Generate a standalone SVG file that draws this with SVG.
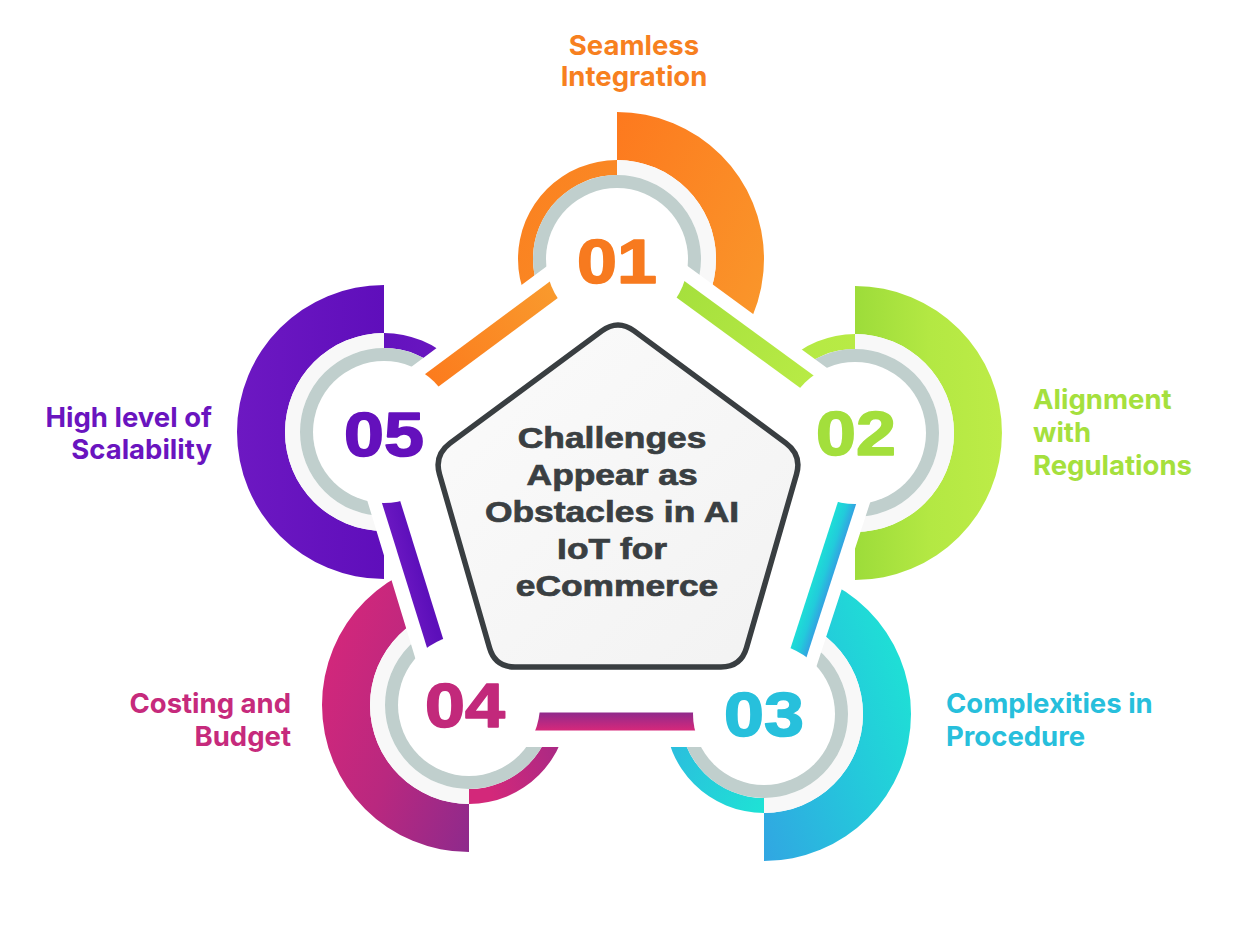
<svg xmlns="http://www.w3.org/2000/svg" width="1241" height="949" viewBox="0 0 1241 949">
<defs>
<linearGradient id="g1big" x1="0" y1="0" x2="1" y2="1"><stop offset="0" stop-color="#fd791e"/><stop offset="1" stop-color="#f99c2d"/></linearGradient>
<linearGradient id="g1thin" x1="0" y1="0" x2="1" y2="1"><stop offset="0" stop-color="#fb801f"/><stop offset="1" stop-color="#f98f29"/></linearGradient>
<linearGradient id="g2big" x1="0" y1="0" x2="1" y2="0"><stop offset="0" stop-color="#9ddc3a"/><stop offset="0.5" stop-color="#b3e843"/><stop offset="1" stop-color="#bdec47"/></linearGradient>
<linearGradient id="g2thin" x1="0" y1="0" x2="1" y2="0"><stop offset="0" stop-color="#b2e843"/><stop offset="1" stop-color="#b8eb45"/></linearGradient>
<linearGradient id="g3big" x1="0" y1="1" x2="1" y2="0.3"><stop offset="0" stop-color="#31a6e2"/><stop offset="0.5" stop-color="#25c5dc"/><stop offset="1" stop-color="#1ee2d5"/></linearGradient>
<linearGradient id="g3thin" x1="0" y1="0" x2="1" y2="1"><stop offset="0" stop-color="#32a9e2"/><stop offset="1" stop-color="#1ee3d5"/></linearGradient>
<linearGradient id="g4big" x1="0" y1="0.3" x2="1" y2="1"><stop offset="0" stop-color="#d4277b"/><stop offset="0.5" stop-color="#b9287f"/><stop offset="1" stop-color="#8e2a8c"/></linearGradient>
<linearGradient id="g4thin" x1="0" y1="0.5" x2="1" y2="0"><stop offset="0" stop-color="#d3287a"/><stop offset="1" stop-color="#922a8a"/></linearGradient>
<linearGradient id="g5big" x1="0" y1="0" x2="1" y2="0"><stop offset="0" stop-color="#6d18c2"/><stop offset="1" stop-color="#5f0ebb"/></linearGradient>
<linearGradient id="g5thin" x1="0" y1="0" x2="1" y2="0"><stop offset="0" stop-color="#6412be"/><stop offset="1" stop-color="#6c18c2"/></linearGradient>
<linearGradient id="bOrange" gradientUnits="userSpaceOnUse" x1="430" y1="383" x2="557" y2="290"><stop offset="0" stop-color="#fc7b1d"/><stop offset="1" stop-color="#f99a2d"/></linearGradient>
<linearGradient id="bGreen" gradientUnits="userSpaceOnUse" x1="680" y1="290" x2="810" y2="385"><stop offset="0" stop-color="#a6e03d"/><stop offset="1" stop-color="#b8eb45"/></linearGradient>
<linearGradient id="bCyan" gradientUnits="userSpaceOnUse" x1="813.4" y1="575.2" x2="830.6" y2="580.8"><stop offset="0" stop-color="#1ddfd6"/><stop offset="0.55" stop-color="#22cbdb"/><stop offset="1" stop-color="#32a5e1"/></linearGradient>
<linearGradient id="bPink" gradientUnits="userSpaceOnUse" x1="0" y1="712" x2="0" y2="731"><stop offset="0" stop-color="#8e2a8c"/><stop offset="1" stop-color="#d8287a"/></linearGradient>
<linearGradient id="bPurple" gradientUnits="userSpaceOnUse" x1="400" y1="570" x2="420" y2="565"><stop offset="0" stop-color="#6a17c1"/><stop offset="1" stop-color="#5c0fba"/></linearGradient>
<linearGradient id="core" x1="0" y1="0" x2="1" y2="1"><stop offset="0" stop-color="#fbfbfb"/><stop offset="1" stop-color="#f2f2f2"/></linearGradient>
<style>
.light{fill:#f8f8f8}
.gray{fill:none;stroke:#c0cfcd;stroke-width:14}
.hole{fill:#ffffff}
.bar{fill:none;stroke-width:18;stroke-linecap:butt}
.num{font-family:"Liberation Sans",Arial,sans-serif;font-weight:700;font-size:63px;text-anchor:middle;stroke-width:1.6;stroke-linejoin:round}
.lbl{font-family:Inter,"Liberation Sans",Arial,sans-serif;font-weight:700;font-size:27.5px}
.core{fill:url(#core);stroke:#393e41;stroke-width:5.5;stroke-linejoin:round}
.coretxt{font-family:"Liberation Sans",Arial,sans-serif;font-weight:700;font-size:29px;fill:#3a3f42;stroke:#3a3f42;stroke-width:0.7;text-anchor:middle}
</style>
</defs>
<rect width="1241" height="949" fill="#ffffff"/>

<g id="rings">
<g id="ring-01">
<path d="M617,112 A147,147 0 0 1 617,406 L617,358 A99,99 0 0 0 617,160Z" fill="url(#g1big)"/>
<path class="light" d="M617,160 A99,99 0 0 1 617,358 L617,343 A84,84 0 0 0 617,175Z"/>
<path d="M617,160 A99,99 0 0 0 617,358 L617,343 A84,84 0 0 1 617,175Z" fill="url(#g1thin)"/>
<circle class="gray" cx="617" cy="259" r="77"/>
</g>
<g id="ring-02">
<path d="M855,286 A147,147 0 0 1 855,580 L855,532 A99,99 0 0 0 855,334Z" fill="url(#g2big)"/>
<path class="light" d="M855,334 A99,99 0 0 1 855,532 L855,517 A84,84 0 0 0 855,349Z"/>
<path d="M855,334 A99,99 0 0 0 855,532 L855,517 A84,84 0 0 1 855,349Z" fill="url(#g2thin)"/>
<circle class="gray" cx="855" cy="433" r="77"/>
</g>
<g id="ring-03">
<path d="M764,567 A147,147 0 0 1 764,861 L764,813 A99,99 0 0 0 764,615Z" fill="url(#g3big)"/>
<path class="light" d="M764,615 A99,99 0 0 1 764,813 L764,798 A84,84 0 0 0 764,630Z"/>
<path d="M764,615 A99,99 0 0 0 764,813 L764,798 A84,84 0 0 1 764,630Z" fill="url(#g3thin)"/>
<circle class="gray" cx="764" cy="714" r="77"/>
</g>
<g id="ring-04">
<path d="M469,558 A147,147 0 0 0 469,852 L469,804 A99,99 0 0 1 469,606Z" fill="url(#g4big)"/>
<path class="light" d="M469,606 A99,99 0 0 0 469,804 L469,789 A84,84 0 0 1 469,621Z"/>
<path d="M469,606 A99,99 0 0 1 469,804 L469,789 A84,84 0 0 0 469,621Z" fill="url(#g4thin)"/>
<circle class="gray" cx="469" cy="705" r="77"/>
</g>
<g id="ring-05">
<path d="M384,285 A147,147 0 0 0 384,579 L384,531 A99,99 0 0 1 384,333Z" fill="url(#g5big)"/>
<path class="light" d="M384,333 A99,99 0 0 0 384,531 L384,516 A84,84 0 0 1 384,348Z"/>
<path d="M384,333 A99,99 0 0 1 384,531 L384,516 A84,84 0 0 0 384,348Z" fill="url(#g5thin)"/>
<circle class="gray" cx="384" cy="432" r="77"/>
</g>
</g>

<polygon id="gap" points="617,259 855,433 764,711 469,711 384,432" fill="#ffffff" stroke="#ffffff" stroke-width="72" stroke-linejoin="miter"/>

<g id="connectors">
<line class="bar" x1="376.3" y1="421.6" x2="609.3" y2="248.6" stroke="url(#bOrange)"/>
<line class="bar" x1="624.7" y1="248.5" x2="862.7" y2="422.5" stroke="url(#bGreen)"/>
<line class="bar" x1="868.3" y1="437.3" x2="777.3" y2="718.3" stroke="url(#bCyan)"/>
<line class="bar" x1="764" y1="721.5" x2="469" y2="721.5" stroke="url(#bPink)"/>
<line class="bar" x1="455.6" y1="709.2" x2="370.6" y2="436.2" stroke="url(#bPurple)"/>
</g>

<g id="node-01"><circle class="hole" cx="617" cy="259" r="71"/><text class="num" transform="translate(617 283) scale(1.14 1)" fill="#f77a1f" stroke="#f77a1f">01</text></g>
<g id="node-02"><circle class="hole" cx="855" cy="433" r="71"/><text class="num" transform="translate(856 455) scale(1.14 1)" fill="#a3df3c" stroke="#a3df3c">02</text></g>
<g id="node-03"><circle class="hole" cx="764" cy="714" r="71"/><text class="num" transform="translate(764 736) scale(1.14 1)" fill="#27c0dc" stroke="#27c0dc">03</text></g>
<g id="node-04"><circle class="hole" cx="469" cy="705" r="71"/><text class="num" transform="translate(465 727) scale(1.14 1)" fill="#c2297b" stroke="#c2297b">04</text></g>
<g id="node-05"><circle class="hole" cx="384" cy="432" r="71"/><text class="num" transform="translate(384 456) scale(1.14 1)" fill="#6410bc" stroke="#6410bc">05</text></g>

<g id="center">
<path class="core" d="M601.9,330.9 Q618,319 634.1,330.9 L785.9,443.1 Q802,455 796.5,474.2 L746.5,647.8 Q741,667 721,667 L515,667 Q495,667 489.5,647.8 L439.5,474.2 Q434,455 450.1,443.1 Z"/>
<text class="coretxt" transform="translate(617 0) scale(1.22 1)">
<tspan x="0" y="448">Challenges</tspan>
<tspan x="0" y="485">Appear as</tspan>
<tspan x="0" y="522">Obstacles in AI</tspan>
<tspan x="0" y="559">IoT for</tspan>
<tspan x="0" y="596">eCommerce</tspan>
</text>
</g>

<g id="label-01"><text class="lbl" fill="#f7801f" text-anchor="middle"><tspan x="634" y="55">Seamless</tspan><tspan x="634" y="86">Integration</tspan></text></g>
<g id="label-02"><text class="lbl" fill="#a5e03d"><tspan x="1033" y="409">Alignment</tspan><tspan x="1033" y="442">with</tspan><tspan x="1033" y="475">Regulations</tspan></text></g>
<g id="label-03"><text class="lbl" fill="#27bfdc"><tspan x="946" y="713">Complexities in</tspan><tspan x="946" y="746">Procedure</tspan></text></g>
<g id="label-04"><text class="lbl" fill="#c62a7c" text-anchor="end"><tspan x="291" y="713">Costing and</tspan><tspan x="291" y="746">Budget</tspan></text></g>
<g id="label-05"><text class="lbl" fill="#6a14bf" text-anchor="end"><tspan x="212" y="427">High level of</tspan><tspan x="212" y="459">Scalability</tspan></text></g>
</svg>
